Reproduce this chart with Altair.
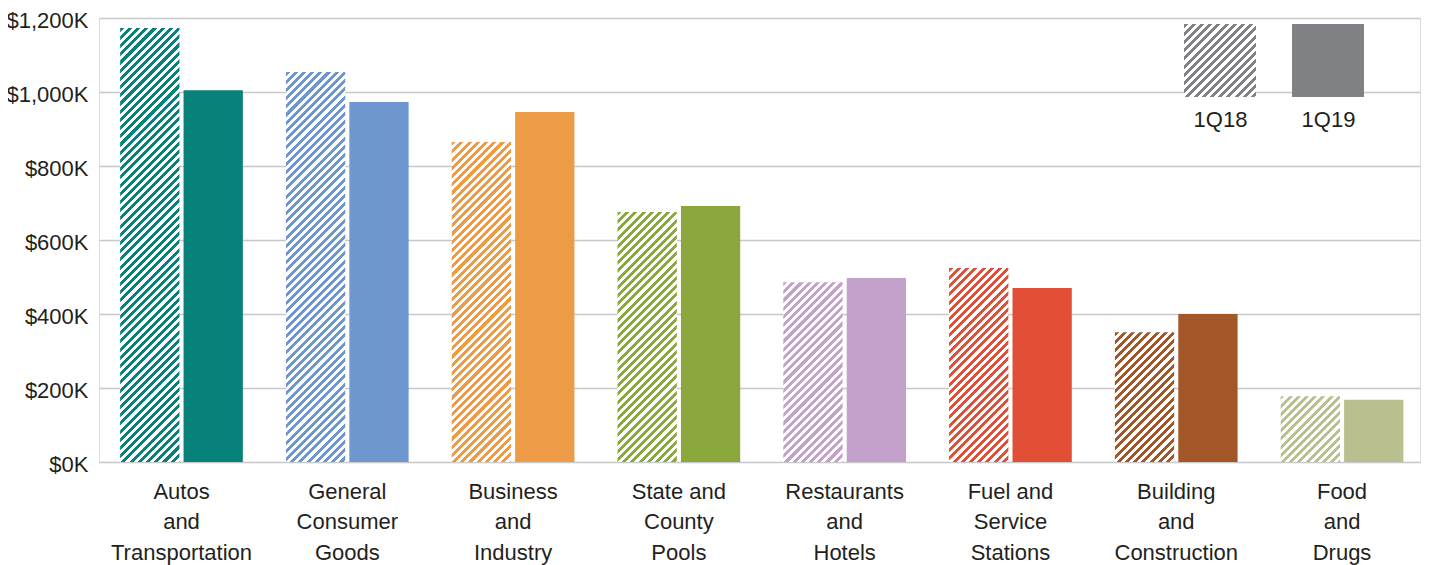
import math
import altair as alt
import pandas as pd

# ---------------- data ----------------
categories = [
    "Autos|and|Transportation",
    "General|Consumer|Goods",
    "Business|and|Industry",
    "State and|County|Pools",
    "Restaurants|and|Hotels",
    "Fuel and|Service|Stations",
    "Building|and|Construction",
    "Food|and|Drugs",
]
series = ["1Q18", "1Q19"]
values_1q18 = [1173, 1054, 865, 676, 486, 524, 351, 178]
values_1q19 = [1005, 973, 946, 692, 497, 470, 400, 168]
colors = ["#06827a", "#6f97cf", "#ee9b47", "#8aa83e",
          "#c4a1cb", "#e15036", "#a35628", "#babf90"]
legend_color = "#808184"
y_ticks = [0, 200, 400, 600, 800, 1000, 1200]

df = pd.DataFrame({
    "category": categories * 2,
    "series": ["1Q18"] * len(categories) + ["1Q19"] * len(categories),
    "value": values_1q18 + values_1q19,
    "color": colors * 2,
})
legend_df = pd.DataFrame({"series": series})

# ---------------- layout ----------------
W, H = 1321, 444
YMAX = 1200
PAD_IN, PAD_OUT, ALIGN = 0.26, 0.114, 0.56
OFF_PAD = 0.065
FONT = "Liberation Sans"
TXT = "#231f20"
GRID = "#c8c8c8"

step = W / (len(categories) - PAD_IN + 2 * PAD_OUT)
band = step * (1 - PAD_IN)
bar_w = band / (2 - OFF_PAD) * (1 - OFF_PAD)


def hatch(color, w, h, period=5.8, frac=0.5):
    """Diagonal '/' stripes as a linear gradient in bbox units."""
    d = w * w + h * h
    x2 = (w + h) * w / d
    y2 = (w + h) * h / d
    st = period * math.sqrt(2) / (w + h)
    stops = []
    k = 0
    while k * st < 1:
        t0 = k * st
        t1 = min((k + frac) * st, 1.0)
        t2 = min((k + 1) * st, 1.0)
        stops += [(t0, color), (t1, color), (t1, "#ffffff"), (t2, "#ffffff")]
        k += 1
    return alt.LinearGradient(
        gradient="linear", x1=0, y1=0, x2=round(x2, 5), y2=round(y2, 5),
        stops=[alt.GradientStop(color=c, offset=round(o, 5)) for o, c in stops],
    )


x_enc = alt.X(
    "category:N", sort=categories,
    scale=alt.Scale(domain=categories, paddingInner=PAD_IN, paddingOuter=PAD_OUT,
                    align=ALIGN),
    axis=alt.Axis(title=None, labelExpr="split(datum.label, '|')", labelAngle=0,
                  ticks=False, domain=False, labelPadding=19, labelFontSize=22,
                  labelLineHeight=30.5, labelColor=TXT, labelFont=FONT, grid=False),
)
xo_enc = alt.XOffset("series:N",
                     scale=alt.Scale(domain=series, paddingInner=OFF_PAD, paddingOuter=0))
y_enc = alt.Y(
    "value:Q", scale=alt.Scale(domain=[0, YMAX], nice=False),
    axis=alt.Axis(title=None, values=y_ticks, ticks=False, domain=False,
                  labelExpr="'$' + format(datum.value, ',') + 'K'",
                  labelPadding=11, labelOffset=2, labelFontSize=22, labelColor=TXT,
                  labelFont=FONT, grid=True, gridColor=GRID, gridWidth=1.5),
)

base = alt.Chart(df)

solid = base.transform_filter(alt.datum.series == "1Q19").mark_bar().encode(
    x=x_enc, xOffset=xo_enc, y=y_enc,
    color=alt.Color("color:N", scale=None),
)

layers = [solid]
for cat, val, col in zip(categories, values_1q18, colors):
    h = val / YMAX * H
    layers.append(
        base.transform_filter((alt.datum.series == "1Q18") & (alt.datum.category == cat))
        .mark_bar(fill=hatch(col, bar_w, h))
        .encode(x=x_enc, xOffset=xo_enc, y=y_enc)
    )

# ---------------- legend ----------------
leg = alt.Chart(legend_df)
layers.append(
    leg.transform_filter(alt.datum.series == "1Q18")
    .mark_rect(fill=hatch(legend_color, 72, 73))
    .encode(x=alt.value(1085), x2=alt.value(1157), y=alt.value(6), y2=alt.value(79))
)
layers.append(
    leg.transform_filter(alt.datum.series == "1Q19")
    .mark_rect(fill=legend_color)
    .encode(x=alt.value(1193), x2=alt.value(1265), y=alt.value(6), y2=alt.value(79))
)
for s, xpos in zip(series, [1121.5, 1229.5]):
    layers.append(
        leg.transform_filter(alt.datum.series == s)
        .mark_text(font=FONT, fontSize=22, color=TXT, align="center", baseline="alphabetic")
        .encode(text="series:N", x=alt.value(xpos), y=alt.value(109))
    )

chart = alt.layer(*layers).properties(
    width=W, height=H,
    autosize=alt.AutoSizeParams(type="none"),
    padding={"left": 91, "top": 10, "right": 1, "bottom": 103},
).configure_view(stroke=GRID, strokeWidth=1.5).configure(background="white")

chart.save("out.html", embed_options={"renderer": "svg", "actions": False})
